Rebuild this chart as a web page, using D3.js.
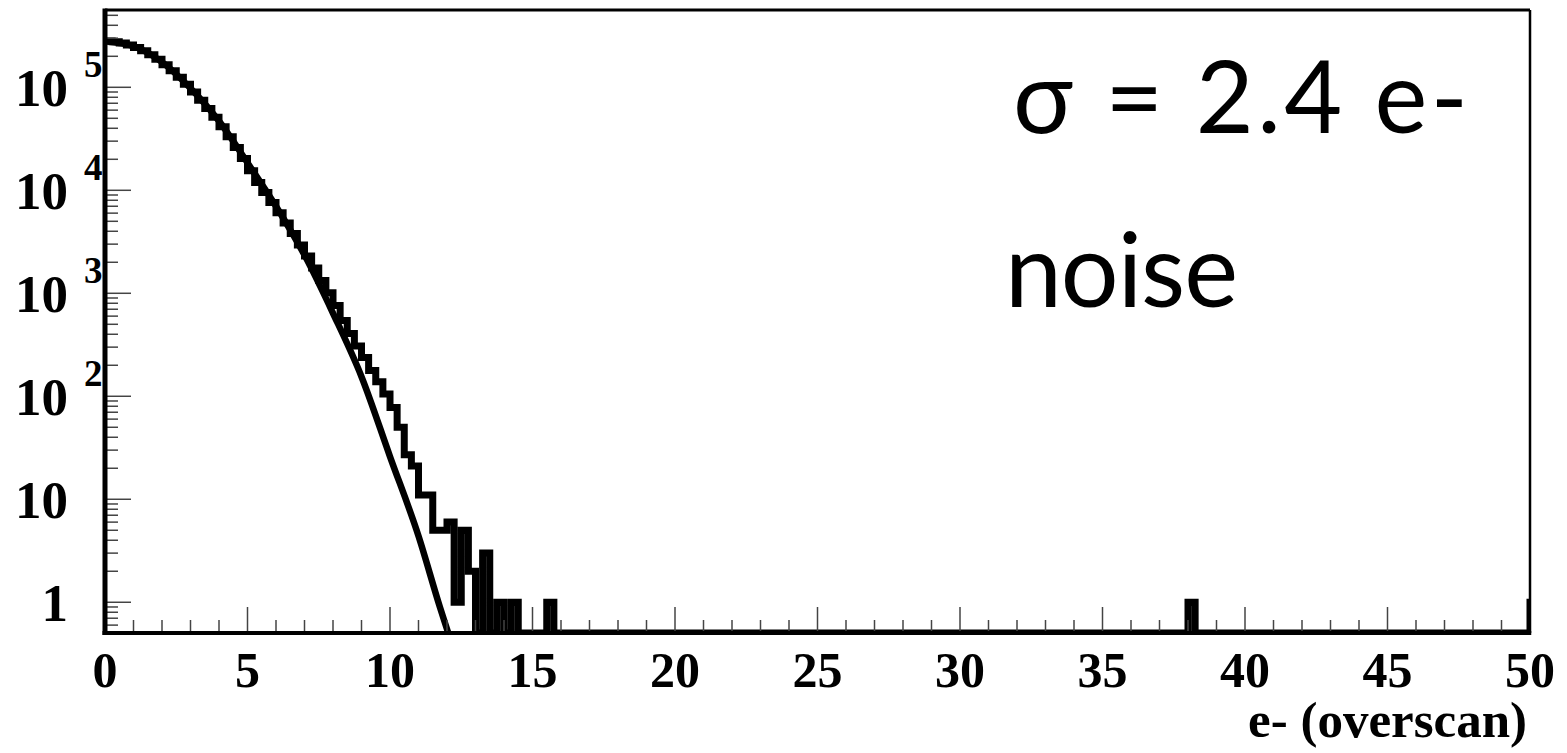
<!DOCTYPE html>
<html>
<head>
<meta charset="utf-8">
<script src="https://cdn.jsdelivr.net/npm/d3@7"></script>
<style>
  html, body { margin: 0; padding: 0; background: #fff; }
  svg { display: block; }
</style>
</head>
<body>
<script>
// ---------------- data ----------------
const binWidth = 0.25;              // e- per bin
const histStart = 0;                // first bin edge (e-)
// counts of bins from 0 to 16 e- (0.25 e- wide)
const histCounts = [
  281000, 277000, 269000, 258000, 243000, 226000, 207000, 187000,
  166000, 145000, 125500, 106800, 90000, 75000, 62100, 51300,
  41500, 33100, 26000, 20300, 15500, 11900, 9500, 7600,
  6050, 4800, 3800, 2950, 2300, 1760, 1330, 1010,
  760, 545, 406, 308, 238, 178, 138, 105,
  78, 50, 27, 21, 11, 11, 5, 5,
  6, 1, 5, 2, 0, 3, 0, 1,
  0, 1, 0, 0, 0, 0, 1, 0
];
// isolated single-count bins further out (left bin edge, e-)
const tailHitEdges = [38.0];
const tailHitCounts = [1];
const overflowCount = 1;

// fitted noise curve (e-, counts)
const fitX = [0, 1, 2, 3, 4, 5, 6, 7, 8, 9, 10, 11, 11.75, 12.1, 12.5];
const fitY = [280000, 250000, 176000, 98000, 47000, 18500, 7000, 2350, 640, 155, 26, 4.4, 0.9, 0.45, 0.2];

const xMajorTicks = [0, 5, 10, 15, 20, 25, 30, 35, 40, 45, 50];
const xTickLabels = ["0", "5", "10", "15", "20", "25", "30", "35", "40", "45", "50"];
const yDecades = [1, 10, 100, 1000, 10000, 100000];
const yBase = ["1", "10", "10", "10", "10", "10"];
const yExp = ["", "", "2", "3", "4", "5"];
const xTitle = "e- (overscan)";
const annot1 = "σ = 2.4 e-";
const annot2 = "noise";

// ---------------- layout ----------------
const W = 1567, H = 753;
const L = 105, R = 1530, T = 10, B = 633;
const xDomain = [0, 50];
const yDomain = [0.503, 5.63e5];

const svg = d3.select("body").append("svg").attr("width", W).attr("height", H);
svg.append("rect").attr("width", W).attr("height", H).attr("fill", "#fff");

const x = d3.scaleLinear().domain(xDomain).range([L, R]);
const y = d3.scaleLog().domain(yDomain).range([B, T]);

const yOf = v => (v >= yDomain[0] ? y(v) : B);

svg.append("defs").append("clipPath").attr("id", "clip")
  .append("rect").attr("x", L).attr("y", T).attr("width", R - L).attr("height", B - T);

// ---------------- histogram (step line) ----------------
const bins = [];
histCounts.forEach((c, i) => bins.push({x0: histStart + i * binWidth, x1: histStart + (i + 1) * binWidth, n: c}));
const lastEdge = histStart + histCounts.length * binWidth;
for (let e = lastEdge; e < xDomain[1] - 1e-9; e += binWidth) {
  const idx = tailHitEdges.findIndex(t => Math.abs(t - e) < 1e-6);
  bins.push({x0: e, x1: e + binWidth, n: idx >= 0 ? tailHitCounts[idx] : 0});
}
bins.push({x0: xDomain[1], x1: xDomain[1] + binWidth, n: overflowCount});

let d = `M${x(bins[0].x0)},${yOf(bins[0].n)}`;
bins.forEach((b, i) => {
  if (i > 0) d += `V${yOf(b.n)}`;
  d += `H${x(b.x1)}`;
});
d += `V${B}`;

const plot = svg.append("g").attr("clip-path", "url(#clip)");
plot.append("path").attr("d", d)
  .attr("fill", "none").attr("stroke", "#000").attr("stroke-width", 7)
  .attr("stroke-linejoin", "miter").attr("stroke-miterlimit", 2);

// ---------------- fit curve ----------------
const fitPts = fitX.map((v, i) => [v, fitY[i]]);
const line = d3.line().x(p => x(p[0])).y(p => y(p[1])).curve(d3.curveMonotoneX);
plot.append("path").attr("d", line(fitPts))
  .attr("fill", "none").attr("stroke", "#000").attr("stroke-width", 6.5)
  .attr("stroke-linecap", "butt");

// ---------------- axes / ticks ----------------
const tickColor = "#444";
const axG = svg.append("g");

const xMinor = d3.range(xDomain[0], xDomain[1] + 0.5, 1).filter(v => v % 5 !== 0);
axG.selectAll(".xmaj").data(xMajorTicks).enter().append("line")
  .attr("x1", d => x(d)).attr("x2", d => x(d)).attr("y1", B).attr("y2", B - 26)
  .attr("stroke", tickColor).attr("stroke-width", 1.5);
axG.selectAll(".xmin").data(xMinor).enter().append("line")
  .attr("x1", d => x(d)).attr("x2", d => x(d)).attr("y1", B).attr("y2", B - 13)
  .attr("stroke", tickColor).attr("stroke-width", 1.5);

const yMinor = [];
[0.1, 1, 10, 100, 1000, 10000, 100000].forEach(dec => {
  for (let m = 2; m <= 9; m++) {
    const v = dec * m;
    if (v >= yDomain[0] && v <= yDomain[1]) yMinor.push(v);
  }
});
axG.selectAll(".ymaj").data(yDecades).enter().append("line")
  .attr("x1", L).attr("x2", L + 26).attr("y1", d => y(d)).attr("y2", d => y(d))
  .attr("stroke", tickColor).attr("stroke-width", 1.5);
axG.selectAll(".ymin").data(yMinor).enter().append("line")
  .attr("x1", L).attr("x2", L + 13).attr("y1", d => y(d)).attr("y2", d => y(d))
  .attr("stroke", tickColor).attr("stroke-width", 1.5);

// frame
axG.append("line").attr("x1", L).attr("x2", R).attr("y1", T).attr("y2", T).attr("stroke", "#000").attr("stroke-width", 3);
axG.append("line").attr("x1", R).attr("x2", R).attr("y1", T).attr("y2", B).attr("stroke", "#000").attr("stroke-width", 2.5);
axG.append("line").attr("x1", L).attr("x2", L).attr("y1", T - 1.5).attr("y2", B + 2).attr("stroke", "#000").attr("stroke-width", 5);
axG.append("line").attr("x1", L - 2.5).attr("x2", R + 1.25).attr("y1", B).attr("y2", B).attr("stroke", "#000").attr("stroke-width", 4);

// ---------------- labels ----------------
const serif = "'Liberation Serif', 'Times New Roman', serif";
axG.selectAll(".xl").data(xMajorTicks).enter().append("text")
  .attr("x", d => x(d)).attr("y", 687)
  .attr("text-anchor", "middle")
  .attr("font-family", serif).attr("font-weight", "bold").attr("font-size", 50)
  .text((d, i) => xTickLabels[i]);

yDecades.forEach((v, i) => {
  const g = axG.append("g").attr("transform", `translate(0,${y(v)})`);
  g.append("text")
    .attr("x", 68).attr("y", 18.5)
    .attr("text-anchor", "end")
    .attr("font-family", serif).attr("font-weight", "bold").attr("font-size", 53)
    .text(yBase[i]);
  if (yExp[i]) {
    g.append("text")
      .attr("x", 84).attr("y", -10)
      .attr("font-family", serif).attr("font-weight", "bold").attr("font-size", 37)
      .text(yExp[i]);
  }
});

svg.append("text").attr("x", 1527).attr("y", 737).attr("text-anchor", "end")
  .attr("font-family", serif).attr("font-weight", "bold").attr("font-size", 51)
  .text(xTitle);

const sans = "Lato, 'Open Sans', sans-serif";
svg.append("text").attr("x", 1013).attr("y", 133)
  .attr("font-family", sans).attr("font-size", 100)
  .attr("textLength", 455).attr("lengthAdjust", "spacing").text(annot1);
svg.append("text").attr("x", 1005).attr("y", 307)
  .attr("font-family", sans).attr("font-size", 102)
  .attr("textLength", 233).attr("lengthAdjust", "spacing").text(annot2);
</script>
</body>
</html>
